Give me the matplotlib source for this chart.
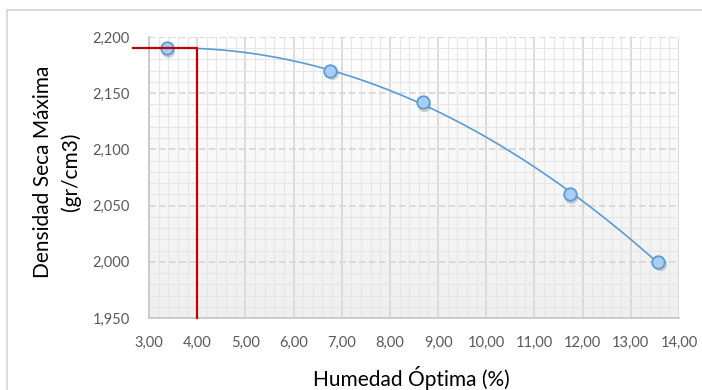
import numpy as np
import matplotlib
matplotlib.use("Agg")
import matplotlib.pyplot as plt
import matplotlib.transforms as mtransforms
from matplotlib.lines import Line2D
from matplotlib.colors import LinearSegmentedColormap
from matplotlib.ticker import MultipleLocator, FuncFormatter

# datos del ensayo proctor
humedad = [3.37, 6.76, 8.68, 11.73, 13.57]
densidad = [2.190, 2.170, 2.142, 2.060, 2.000]

# punto optimo
hum_opt = 4.00
dens_opt = 2.190
hum_linea_ini = 2.67

plt.rcParams['font.family'] = ['Lato', 'DejaVu Sans']

fig = plt.figure(figsize=(7.02, 3.90), dpi=100)
ax = fig.add_axes([149/702, 1 - 318/390, 530/702, 281/390])

xmin, xmax = 3.0, 14.0
ymin, ymax = 1.95, 2.20
ax.set_xlim(xmin, xmax)
ax.set_ylim(ymin, ymax)

# fondo con degradado suave (blanco arriba, gris claro abajo)
cmap_fondo = LinearSegmentedColormap.from_list('fondo', ['#ffffff', '#efefef'])
grad = np.linspace(0.0, 1.0, 256).reshape(-1, 1)
ax.imshow(grad, extent=[xmin, xmax, ymin, ymax], aspect='auto', cmap=cmap_fondo,
          zorder=0, origin='upper')

ax.xaxis.set_major_locator(MultipleLocator(1))
ax.xaxis.set_minor_locator(MultipleLocator(0.2))
ax.yaxis.set_major_locator(MultipleLocator(0.05))
ax.yaxis.set_minor_locator(MultipleLocator(0.01))
ax.grid(which='minor', color='#e6e6e6', lw=0.8, zorder=1)
ax.grid(which='major', axis='x', color='#d6d6d6', lw=1.2, zorder=1)
ax.grid(which='major', axis='y', color='#d6d6d6', lw=1.2, ls=(0, (4, 2)), zorder=1)
ax.set_axisbelow(True)

ax.xaxis.set_major_formatter(FuncFormatter(lambda v, p: f"{v:.2f}".replace('.', ',')))
ax.yaxis.set_major_formatter(FuncFormatter(lambda v, p: f"{v:.3f}".replace('.', ',')))
ax.tick_params(which='both', length=0, labelsize=10.5, labelcolor='#595959')
ax.tick_params(axis='x', pad=13)
ax.tick_params(axis='y', pad=14)

for s in ['top', 'right']:
    ax.spines[s].set_visible(False)
for s in ['left', 'bottom']:
    ax.spines[s].set_color('#c8c8c8')
    ax.spines[s].set_linewidth(1.3)

# linea de tendencia polinomica (grado 2)
coef = np.polyfit(humedad, densidad, 2)
xs = np.linspace(min(humedad), max(humedad), 200)
ax.plot(xs, np.polyval(coef, xs), color='#5b9bd5', lw=1.2, zorder=3)

# sombra de los marcadores
sombra = mtransforms.offset_copy(ax.transData, fig=fig, x=1.5, y=-2.5, units='dots')
ax.plot(humedad, densidad, 'o', ms=9.5, color='#7f7f7f', alpha=0.35, mec='none',
        transform=sombra, zorder=4)
ax.plot(humedad, densidad, 'o', ms=9, mfc='#a9cdf3', mec='#5b9bd5', mew=1.3, zorder=5)

# lineas del optimo (por encima de los marcadores)
ax.plot([hum_linea_ini, hum_opt, hum_opt], [dens_opt, dens_opt, ymin],
        color='#c00000', lw=1.6, zorder=6, clip_on=False)

# titulos de ejes
fig.text(411/702, 1 - 378/390, 'Humedad Óptima (%)', fontsize=15, color='black',
         ha='center', va='center')
fig.text(57/702, 1 - 172/390, 'Densidad Seca Máxima\n(gr/cm3)', fontsize=15,
         color='black', ha='center', va='center', rotation=90,
         multialignment='center', linespacing=1.45)

# borde exterior del grafico
fig.add_artist(Line2D([7/702, 7/702], [0, 1 - 10/390], color='#d9d9d9', lw=1.3))
fig.add_artist(Line2D([7/702, 1], [1 - 10/390, 1 - 10/390], color='#d9d9d9', lw=1.3))

fig.savefig('out.png', dpi=100)
